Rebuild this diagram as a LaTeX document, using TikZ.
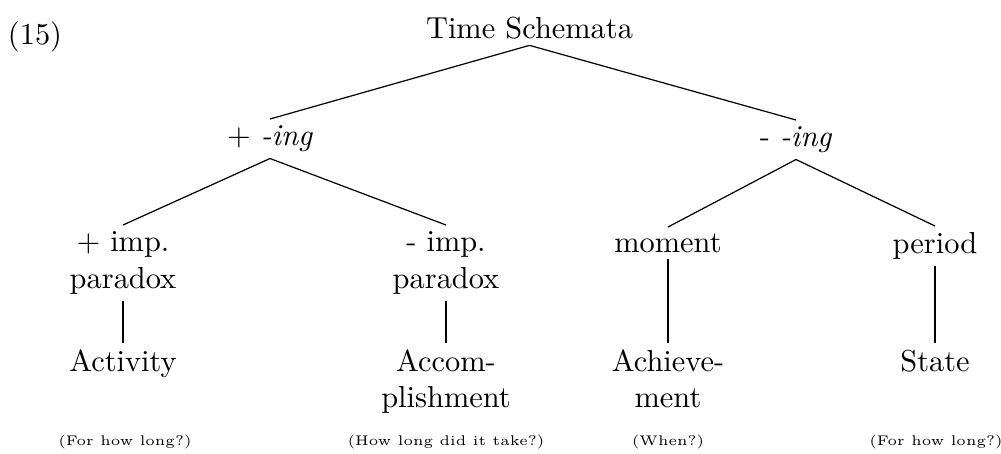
\documentclass[tikz,border=0pt]{standalone}
\begin{document}
\begin{tikzpicture}[x=0.3289pt, y=-0.3289pt,
  tnode/.style={inner sep=2pt, align=center, font=\normalsize},
  qnode/.style={inner sep=0pt, anchor=base, font=\fontsize{4.6}{5.5}\selectfont},
  edge/.style={line width=0.4pt}]
  \useasboundingbox (0,0) rectangle (1001,453);

  % example number
  \node[anchor=base, inner sep=0pt] (num) at (35,44) {(15)};

  % root
  \node[tnode, anchor=base] (root) at (529.5,38) {Time Schemata};

  % first level
  \node[tnode, anchor=north] (ping) at (270,119) {+ \textit{-ing}};
  \node[tnode, anchor=north] (ming) at (796,120) {- \textit{-ing}};

  % second level
  \node[tnode, anchor=north] (pimp) at (123,225) {+ imp.\\paradox};
  \node[tnode, anchor=north] (mimp) at (446,225) {- imp.\\paradox};
  \node[tnode, anchor=north] (mom)  at (668,227) {moment};
  \node[tnode, anchor=north] (per)  at (935,226) {period};

  % leaves
  \node[tnode, anchor=north] (act) at (123,343) {Activity};
  \node[tnode, anchor=north] (acc) at (446,343) {Accom-\\plishment};
  \node[tnode, anchor=north] (ach) at (668,343) {Achieve-\\ment};
  \node[tnode, anchor=north] (sta) at (935,343) {State};

  % questions
  \node[qnode] (q1) at (125,445) {(For how long?)};
  \node[qnode] (q2) at (446,445) {(How long did it take?)};
  \node[qnode] (q3) at (668,445) {(When?)};
  \node[qnode] (q4) at (936,445) {(For how long?)};

  % branches
  \draw[edge] (root.south) -- (ping.north);
  \draw[edge] (root.south) -- (ming.north);
  \draw[edge] (ping.south) -- (pimp.north);
  \draw[edge] (ping.south) -- (mimp.north);
  \draw[edge] (ming.south) -- (mom.north);
  \draw[edge] (ming.south) -- (per.north);
  \draw[edge] (pimp.south) -- (act.north);
  \draw[edge] (mimp.south) -- (acc.north);
  \draw[edge] (mom.south) -- (ach.north);
  \draw[edge] (per.south) -- (sta.north);
\end{tikzpicture}
\end{document}
